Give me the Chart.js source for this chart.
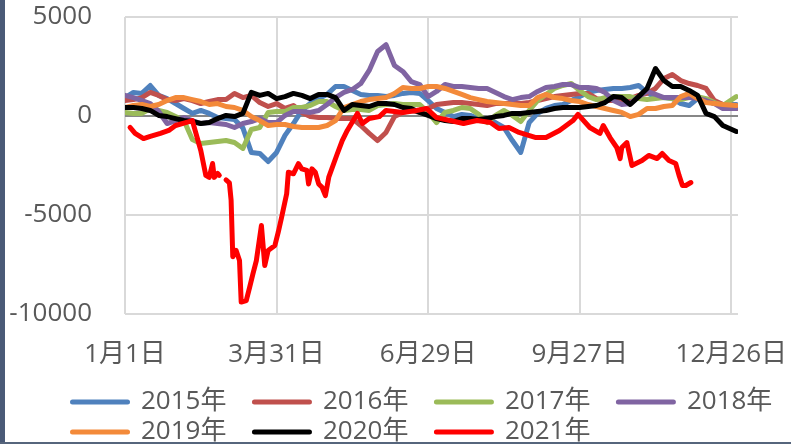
<!DOCTYPE html>
<html>
<head>
<meta charset="utf-8">
<script src="https://cdn.jsdelivr.net/npm/chart.js@4.4.1/dist/chart.umd.min.js"></script>
<style>
  html, body { margin: 0; padding: 0; background: #ffffff; }
  #wrap { position: relative; width: 791px; height: 444px; overflow: hidden; background: #ffffff; }
  #wrap canvas { position: absolute; left: 0; top: 0; }
  .edge-left { position: absolute; left: 0; top: 0; width: 5px; height: 444px; background: #4A5A77; }
  .edge-bottom { position: absolute; left: 0; bottom: 0; width: 791px; height: 2px; background: #56657C; }
</style>
</head>
<body>
<div id="wrap">
  <canvas id="chart" width="791" height="444"></canvas>
  <div class="edge-left"></div>
  <div class="edge-bottom"></div>
</div>
<script>
// ---- Data ----
const tickDays = [0, 90, 180, 270, 360];
const tickLabels = ['1月1日', '3月31日', '6月29日', '9月27日', '12月26日'];
const seriesNames = ['2015年', '2016年', '2017年', '2018年', '2019年', '2020年', '2021年'];
const seriesColors = ['#4F81BD', '#C0504D', '#9BBB59', '#8064A2', '#F38A3A', '#000000', '#FF0000'];

const days = [0,5,10,15,20,25,30,35,40,45,50,55,60,65,70,75,80,85,90,95,100,105,110,115,120,125,130,135,140,145,150,155,160,165,170,175,180,185,190,195,200,205,210,215,220,225,230,235,240,245,250,255,260,265,270,275,280,285,290,295,300,305,310,315,320,325,330,335,340,345,350,355,363];

const s2015 = [930,1190,1140,1540,1040,880,630,380,130,280,
  130,-80,-130,-180,-600,-1840,-1890,-2300,-1840,-980,
  -380,280,630,880,1090,1490,1490,1290,1090,1040,
  1040,980,1040,1140,1190,1140,780,380,180,-30,
  80,30,-130,-130,-330,-580,-1240,-1840,-330,130,
  380,530,580,780,980,1190,1290,1340,1390,1390,
  1440,1540,1190,930,930,880,630,530,880,780,
  630,580,580];

const s2016 = [780,830,930,1190,1040,830,780,880,780,630,
  730,830,830,1140,930,1040,680,480,630,380,
  530,180,-30,-80,-80,-130,-130,-130,-480,-880,
  -1240,-830,-30,180,280,180,380,580,630,680,
  680,630,580,530,630,630,630,630,680,780,
  880,980,1040,1090,1140,1140,880,780,780,780,
  880,1040,1140,1390,1890,2100,1790,1640,1540,1390,
  780,580,380];

const s2017 = [180,130,130,380,280,180,-30,-230,-1190,-1390,
  -1340,-1290,-1240,-1340,-1640,-680,-580,180,230,230,
  430,430,530,730,730,480,280,330,330,280,
  530,580,630,580,580,580,180,-330,180,280,
  430,380,80,-330,30,280,30,-280,280,780,
  1090,1390,1540,1640,1290,980,830,930,980,980,
  980,880,830,880,930,880,830,930,980,880,
  680,530,980];

const s2018 = [1040,930,780,630,230,-380,-230,-80,-230,-380,
  -330,-380,-430,-580,-380,-280,-130,-330,-330,30,
  230,230,180,280,580,930,1190,1340,1640,2300,
  3260,3600,2550,2250,1740,1590,980,1240,1590,1490,
  1490,1440,1390,1390,1190,980,830,930,980,1240,
  1440,1490,1590,1590,1440,1440,1390,1190,780,580,
  630,980,1240,1090,930,930,930,930,880,780,
  630,380,380];

const s2019 = [430,530,580,480,580,780,930,930,830,730,
  580,630,480,430,280,-30,-230,-480,-430,-430,
  -530,-580,-580,-580,-480,-230,430,580,730,830,
  880,930,1140,1440,1390,1390,1490,1490,1390,1240,
  1090,930,830,730,680,630,580,530,530,930,
  1090,930,880,780,730,580,480,380,280,180,
  -30,80,380,380,480,530,980,1140,880,680,
  630,580,530];

const s2020 = [430,430,380,280,30,-30,-130,-230,-280,-380,
  -330,-130,30,-30,130,1190,1040,1140,880,980,
  1140,1040,880,1090,1090,930,280,580,530,480,
  630,630,580,430,380,180,30,-130,-230,-280,
  -130,-130,-180,-130,-30,30,130,130,180,230,
  280,380,430,430,430,480,530,680,980,930,
  580,980,1390,2400,1790,1490,1490,1290,1040,130,
  -30,-480,-780];

const redDays = [3,6,11,15,21,26,30,36,40,45,
  48,50,52,53,55,56,58,60,62,63,
  64,66,68,69,72,74,76,78,81,83,
  85,89,91,93,96,97,100,103,105,108,
  109,111,113,115,117,119,121,126,129,132,
  138,141,145,151,155,165,173,179,185,193,
  201,209,217,222,228,234,244,250,258,266,
  269,276,282,284,288,292,294,295,298,300,
  301,307,311,316,319,323,327,329,331,333,
  336];

const s2021 = [-580,-880,-1140,-1030,-880,-730,-480,-330,-230,-1740,
  -3000,-3100,-2400,-3100,-2900,-3000,null,-3230,-3380,-4240,
  -7110,-6790,-7300,-9400,-9320,-8650,-7960,-7300,-5530,-7550,
  -6790,-6540,-5870,-5110,-3930,-2840,-2920,-2410,-2670,-2750,
  -3430,-2670,-2840,-3430,-3600,-4020,-3090,-1920,-1240,-730,
  130,-380,-130,-30,280,180,280,380,-80,-230,
  -380,-230,-330,-630,-580,-830,-1090,-1090,-730,-230,
  80,-580,-880,-480,-1090,-1590,-2150,-1590,-1340,-2100,
  -2500,-2250,-1990,-2150,-1890,-2250,-2400,-3000,-3510,-3510,
  -3360];

const yMin = -10000, yMax = 5000, yStep = 5000;

// ---- Build datasets ----
function pairs(xs, ys) { return xs.map((x, i) => ({ x: x, y: ys[i] })); }
const seriesData = [
  pairs(days, s2015), pairs(days, s2016), pairs(days, s2017), pairs(days, s2018),
  pairs(days, s2019), pairs(days, s2020), pairs(redDays, s2021)
];

const datasets = seriesNames.map((name, i) => ({
  label: name,
  data: seriesData[i],
  borderColor: seriesColors[i],
  backgroundColor: seriesColors[i],
  borderWidth: 5,
  borderJoinStyle: 'round',
  borderCapStyle: 'round',
  pointRadius: 0,
  pointHoverRadius: 0,
  tension: 0,
  spanGaps: false,
  order: seriesNames.length - i
}));

const FONT = "'Open Sans', 'Noto Sans CJK SC', sans-serif";
const TEXT = '#595959';

// shift the bottom legend so its columns start where the reference's do
const legendShift = {
  id: 'legendShift',
  afterLayout(chart) {
    if (chart.legend) { chart.legend.left += 40; chart.legend.right += 40; }
  }
};

new Chart(document.getElementById('chart'), {
  type: 'line',
  data: { datasets: datasets },
  plugins: [legendShift],
  options: {
    responsive: false,
    animation: false,
    devicePixelRatio: 1,
    layout: { padding: { left: 4.5, right: 0, top: 17, bottom: 0 } },
    plugins: {
      tooltip: { enabled: false },
      legend: {
        position: 'bottom',
        align: 'start',
        maxHeight: 59,
        labels: {
          boxWidth: 79.5,
          boxHeight: 0,
          padding: 4,
          color: TEXT,
          font: { family: FONT, size: 26 },
          generateLabels: (chart) => chart.data.datasets.map((ds, i) => ({
            text: ds.label,
            fillStyle: 'rgba(0,0,0,0)',
            strokeStyle: ds.borderColor,
            lineWidth: 5,
            lineCap: 'round',
            lineDash: [55, 1000],
            lineDashOffset: -24,
            hidden: false,
            datasetIndex: i,
            fontColor: TEXT
          }))
        }
      }
    },
    scales: {
      x: {
        type: 'linear',
        min: 0,
        max: 364,
        afterBuildTicks: (s) => { s.ticks = tickDays.map(v => ({ value: v })); },
        afterFit: (s) => { s.height = 71; s.paddingLeft = 0; s.paddingRight = 0; },
        ticks: {
          autoSkip: false,
          maxRotation: 0,
          minRotation: 0,
          padding: 25,
          color: TEXT,
          font: { family: FONT, size: 26 },
          callback: (v) => { const k = tickDays.indexOf(v); return k >= 0 ? tickLabels[k] : ''; }
        },
        grid: { color: '#D9D9D9', lineWidth: 2, drawTicks: false },
        border: { display: false }
      },
      y: {
        type: 'linear',
        position: 'left',
        min: yMin,
        max: yMax,
        afterFit: (s) => { s.width = 120.5; s.paddingTop = 0; s.paddingBottom = 0; },
        ticks: {
          stepSize: yStep,
          padding: 33,
          color: TEXT,
          font: { family: FONT, size: 26 },
          callback: (v) => String(v)
        },
        grid: {
          color: (c) => (c.tick && c.tick.value === 0) ? '#878787' : '#D9D9D9',
          lineWidth: 2,
          drawTicks: false
        },
        border: { display: false }
      },
      yRight: {
        type: 'linear',
        position: 'right',
        display: true,
        afterFit: (s) => { s.width = 53; s.paddingTop = 0; s.paddingBottom = 0; },
        ticks: { display: false },
        grid: { display: false, drawTicks: false },
        border: { display: false }
      }
    }
  }
});
</script>
</body>
</html>
